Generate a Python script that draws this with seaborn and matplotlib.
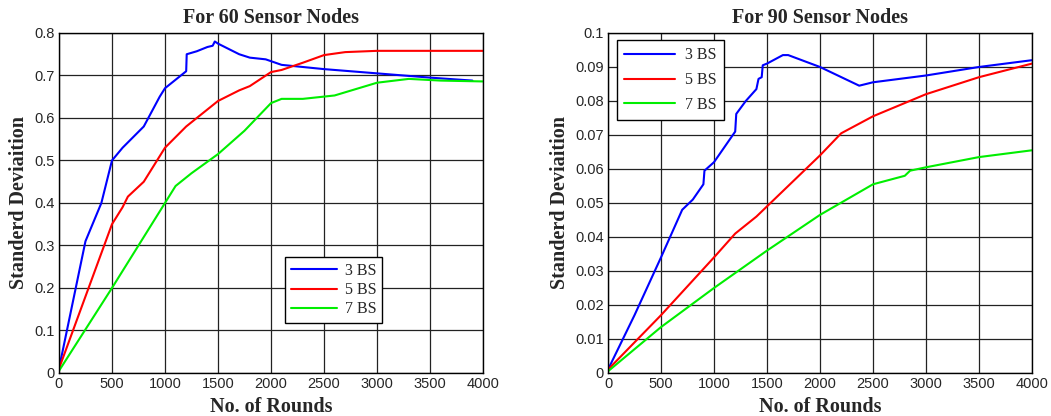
import numpy as np
import pandas as pd
import matplotlib
matplotlib.use("Agg")
import matplotlib.pyplot as plt
import seaborn as sns

# === Datos: 60 nodos ===
x60_3bs = [0, 250, 400, 500, 600, 800, 950, 1000, 1200, 1205, 1300, 1400, 1450, 1470, 1500, 1700, 1800, 1950, 2100, 2500, 3000, 3500, 3900]
y60_3bs = [0.01, 0.31, 0.40, 0.50, 0.53, 0.58, 0.65, 0.67, 0.71, 0.75, 0.757, 0.767, 0.77, 0.78, 0.775, 0.75, 0.742, 0.738, 0.725, 0.715, 0.705, 0.695, 0.688]
x60_5bs = [0, 250, 500, 600, 650, 800, 1000, 1200, 1500, 1700, 1800, 2000, 2100, 2300, 2500, 2700, 3000, 4000]
y60_5bs = [0.01, 0.18, 0.35, 0.39, 0.415, 0.45, 0.53, 0.58, 0.64, 0.665, 0.675, 0.708, 0.713, 0.73, 0.748, 0.755, 0.758, 0.758]
x60_7bs = [0, 500, 1000, 1100, 1250, 1500, 1750, 2000, 2100, 2300, 2600, 3000, 3300, 3600, 4000]
y60_7bs = [0.005, 0.20, 0.40, 0.44, 0.47, 0.515, 0.57, 0.635, 0.645, 0.645, 0.653, 0.683, 0.692, 0.688, 0.686]

# === Datos: 90 nodos ===
x90_3bs = [0, 250, 500, 700, 800, 900, 910, 1000, 1200, 1210, 1300, 1400, 1420, 1450, 1460, 1500, 1650, 1700, 2000, 2370, 2500, 3000, 3500, 4000]
y90_3bs = [0.001, 0.017, 0.034, 0.048, 0.051, 0.0555, 0.0595, 0.062, 0.071, 0.0762, 0.080, 0.0835, 0.0865, 0.087, 0.0905, 0.091, 0.0935, 0.0935, 0.090, 0.0845, 0.0855, 0.0875, 0.090, 0.092]
x90_5bs = [0, 500, 1000, 1200, 1400, 1500, 1700, 2000, 2200, 2500, 3000, 3500, 4000]
y90_5bs = [0.001, 0.017, 0.034, 0.041, 0.046, 0.049, 0.055, 0.064, 0.0705, 0.0755, 0.082, 0.087, 0.091]
x90_7bs = [0, 500, 1000, 1500, 2000, 2500, 2800, 2850, 3000, 3500, 4000]
y90_7bs = [0.0005, 0.0135, 0.025, 0.036, 0.0465, 0.0555, 0.058, 0.0595, 0.0605, 0.0635, 0.0655]

labels = ["3 BS", "5 BS", "7 BS"]
colores = ["#0000ff", "#ff0000", "#00ee00"]

sns.set_style("whitegrid")
plt.rcParams["font.family"] = ["Liberation Sans", "DejaVu Sans"]

fig = plt.figure(figsize=(10.51, 4.16), dpi=100)
ax1 = fig.add_axes([0.0561, 0.1034, 0.4035, 0.8173])
ax2 = fig.add_axes([0.5785, 0.1034, 0.4034, 0.8173])

paneles = [
    (ax1, [(x60_3bs, y60_3bs), (x60_5bs, y60_5bs), (x60_7bs, y60_7bs)],
     "For 60 Sensor Nodes", 0.8, np.arange(0, 0.81, 0.1)),
    (ax2, [(x90_3bs, y90_3bs), (x90_5bs, y90_5bs), (x90_7bs, y90_7bs)],
     "For 90 Sensor Nodes", 0.1, np.arange(0, 0.101, 0.01)),
]

serif = ["Liberation Serif", "DejaVu Serif"]

for ax, series, titulo, ymax, yticks in paneles:
    for (xs, ys), lab, col in zip(series, labels, colores):
        df = pd.DataFrame({"x": xs, "y": ys})
        sns.lineplot(data=df, x="x", y="y", ax=ax, color=col, lw=1.5, label=lab)
    ax.set_xlim(0, 4000)
    ax.set_ylim(0, ymax)
    ax.set_xticks(range(0, 4001, 500))
    ax.set_yticks(yticks)
    ylab = ["0" if abs(v) < 1e-9 else ("%.2f" % v).rstrip("0").rstrip(".") for v in yticks]
    ax.set_yticklabels(ylab)
    ax.tick_params(labelsize=10.5, length=0, pad=3)
    ax.grid(True, color="#222222", linewidth=0.9, linestyle="-")
    for s in ax.spines.values():
        s.set_color("black")
        s.set_linewidth(1.0)
    ax.set_title(titulo, fontsize=14.5, fontweight="bold", family=serif, pad=7)
    ax.set_xlabel("No. of Rounds", fontsize=14.5, fontweight="bold", family=serif, labelpad=4)
    ax.set_ylabel("Standerd Deviaition", fontsize=14.5, fontweight="bold", family=serif, labelpad=4)

leg1 = ax1.legend(loc="lower left", bbox_to_anchor=(0.533, 0.147), prop={"family": serif, "size": 11.5},
                  frameon=True, fancybox=False, edgecolor="black", borderpad=0.35, handlelength=2.9,
                  handletextpad=0.5, labelspacing=0.2, borderaxespad=0)
leg2 = ax2.legend(loc="upper left", bbox_to_anchor=(0.021, 0.979), prop={"family": serif, "size": 11.5},
                  frameon=True, fancybox=False, edgecolor="black", borderpad=0.45, handlelength=3.2,
                  handletextpad=0.6, labelspacing=0.55, borderaxespad=0)
for leg in (leg1, leg2):
    leg.get_frame().set_linewidth(1.0)
    leg.get_frame().set_alpha(1)

plt.savefig("out.png", dpi=100)
plt.close()
